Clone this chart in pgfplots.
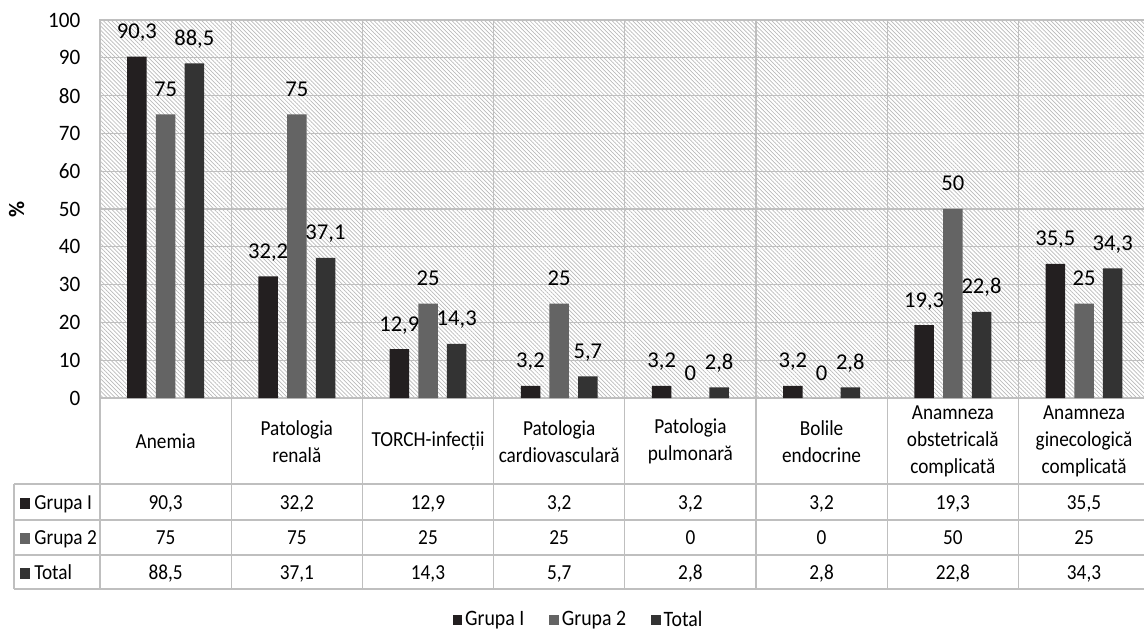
\documentclass[border=0pt]{standalone}
\usepackage{fontspec}
\setmainfont{Carlito}
\newfontfamily\narrowfont{Carlito}[FakeStretch=0.9]
\newfontfamily\tickfont{Carlito}[FakeStretch=0.96]
\usepackage{pgfplots}
\pgfplotsset{compat=1.18}
\usepackage{pgfplotstable}
\usetikzlibrary{patterns.meta}

\definecolor{grpI}{HTML}{231F20}
\definecolor{grpII}{HTML}{646464}
\definecolor{grpT}{HTML}{333333}
\definecolor{gridgray}{HTML}{BFBFBF}
\definecolor{hatch}{HTML}{BABABA}

\pgfkeys{/pgf/number format/.cd, use comma, fixed, precision=1, 1000 sep={}, assume math mode=true}

% share of patients (%) by pathology and group
\pgfplotstableread{
x grupa1 grupa2 total
0 90.3 75 88.5
1 32.2 75 37.1
2 12.9 25 14.3
3 3.2  25 5.7
4 3.2  0  2.8
5 3.2  0  2.8
6 19.3 50 22.8
7 35.5 25 34.3
}\datatable

\newcommand\tablefont{\narrowfont\fontsize{10.7}{13.4}\selectfont}

\begin{document}
\begin{tikzpicture}
\useasboundingbox (0,0) rectangle (572pt,-317.5pt);
\begin{axis}[
  at={(50pt,-10pt)}, anchor=north west,
  scale only axis, width=524.8pt, height=189pt,
  xmin=-0.5, xmax=7.5, ymin=0, ymax=100,
  ybar, bar width=9.75pt,
  xtick={0.5,1.5,...,6.5}, xticklabels={},
  ytick={0,10,...,100},
  tick align=outside, ytick pos=left, xtick pos=bottom,
  major tick length=6.3pt,
  tick style={draw=none},
  xmajorgrids, ymajorgrids,
  grid style={gridgray, line width=0.6pt},
  axis line style={gridgray, line width=0.6pt},
  axis background/.style={pattern={Lines[angle=-45,distance=1.45pt,line width=0.35pt]}, pattern color=hatch},
  /pgf/number format/use comma,
  /pgf/number format/assume math mode=true,
  yticklabel style={font=\tickfont\fontsize{11}{13}\selectfont},
  ylabel={\%},
  ylabel style={font=\bfseries\fontsize{11}{13}\selectfont, at={(axis description cs:-0.0794,0.5)}, anchor=center},
  nodes near coords,
  every node near coord/.append style={font=\fontsize{11.3}{13}\selectfont, anchor=base, yshift=9pt, text=black},
  legend columns=3,
  legend style={at={(0.4564,-0.587)}, anchor=center, draw=none, fill=none,
    font=\narrowfont\fontsize{11}{13}\selectfont,
    nodes={inner sep=1.5pt},
    /tikz/every even column/.append style={column sep=11pt}},
  legend image code/.code={\fill[#1] (0pt,-2.6pt) rectangle (4.8pt,2.6pt);},
]
\addplot[fill=grpI, draw=none, bar shift=-14.35pt] table[x=x, y=grupa1] {\datatable};
\addplot[fill=grpII, draw=none, bar shift=0pt] table[x=x, y=grupa2] {\datatable};
\addplot[fill=grpT, draw=none, bar shift=14.35pt] table[x=x, y=total] {\datatable};
\legend{Grupa I, Grupa 2, Total}
\end{axis}

% data table under the plot
\begin{scope}[x=0.5pt, y=-0.5pt]
  \foreach \k in {0,...,8}
    \draw[gridgray, line width=0.6pt] ({100+131.2*\k},398) -- ({100+131.2*\k},589);
  \draw[gridgray, line width=0.6pt] (14,484) -- (14,589);
  \foreach \yy in {484,520,555,589}
    \draw[gridgray, line width=0.6pt] (14,\yy) -- (1150,\yy);
  \foreach \name [count=\i from 0] in {Anemia, {Patologia\\renală}, TORCH-infecții,
      {Patologia\\cardiovasculară}, {Patologia\\pulmonară}, {Bolile\\endocrine},
      {Anamneza\\obstetricală\\complicată}, {Anamneza\\ginecologică\\complicată}}
    \node[align=center, font=\tablefont, inner sep=0pt]
      at ({165.6+131.2*\i},441.5) {\name};
  % row headers
  \fill[grpI]  (20,498) rectangle (30,509);
  \fill[grpII] (20,533) rectangle (30,544);
  \fill[grpT]  (20,568) rectangle (30,579);
  \node[anchor=base west, inner sep=0pt, font=\tablefont] at (34,509.5) {Grupa I};
  \node[anchor=base west, inner sep=0pt, font=\tablefont] at (34,544.5) {Grupa 2};
  \node[anchor=base west, inner sep=0pt, font=\tablefont] at (34,579.5) {Total};
  % values
  \foreach \k in {0,...,7} {
    \pgfplotstablegetelem{\k}{grupa1}\of\datatable
    \node[anchor=base, inner sep=0pt, font=\tablefont]
      at ({165.6+131.2*\k},509.5) {\pgfmathprintnumber{\pgfplotsretval}};
    \pgfplotstablegetelem{\k}{grupa2}\of\datatable
    \node[anchor=base, inner sep=0pt, font=\tablefont]
      at ({165.6+131.2*\k},544.5) {\pgfmathprintnumber{\pgfplotsretval}};
    \pgfplotstablegetelem{\k}{total}\of\datatable
    \node[anchor=base, inner sep=0pt, font=\tablefont]
      at ({165.6+131.2*\k},579.5) {\pgfmathprintnumber{\pgfplotsretval}};
  }
\end{scope}
\end{tikzpicture}
\end{document}
